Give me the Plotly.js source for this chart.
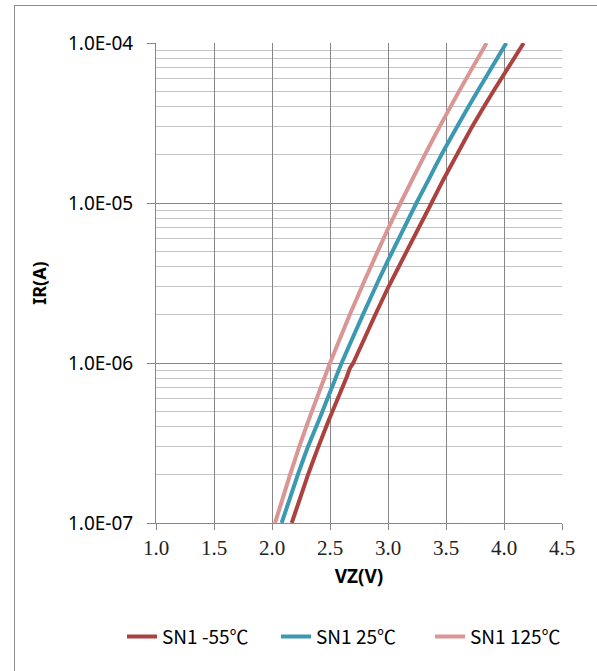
<!DOCTYPE html>
<html>
<head>
<meta charset="utf-8">
<script src="https://cdn.plot.ly/plotly-3.0.1.min.js"></script>
<style>
  html, body { margin: 0; padding: 0; background: #fff; overflow: hidden; }
  #wrap { position: relative; width: 597px; height: 671px; }
  #frame { position: absolute; left: 14px; top: 5px; width: 590px; height: 700px; border: 1px solid #8c8c8c; box-sizing: border-box; pointer-events: none; }
  #chart { position: absolute; left: 0; top: 0; width: 597px; height: 671px; }
</style>
</head>
<body>
<div id="wrap">
  <div id="chart"></div>
  <div id="frame"></div>
</div>
<script>
// Series names
const seriesNames = ["SN1 -55℃", "SN1 25℃", "SN1 125℃"];

// SN1 -55℃
const vzM55 = [2.17, 2.31, 2.40, 2.49, 2.645, 2.672, 2.70, 2.89, 3.0, 3.375, 3.475, 3.593, 3.725, 3.908, 4.17];
const irM55 = [1e-7, 2e-7, 3e-7, 4.4e-7, 8.2e-7, 9.3e-7, 1e-6, 2e-6, 2.95e-6, 1e-5, 1.39e-5, 2e-5, 3e-5, 5e-5, 1e-4];

// SN1 25℃
const vz25 = [2.083, 2.222, 2.31, 2.405, 2.60, 2.783, 2.92, 2.995, 3.245, 3.348, 3.46, 3.595, 3.772, 4.02];
const ir25 = [1e-7, 2e-7, 3e-7, 4.4e-7, 1e-6, 2e-6, 3.3e-6, 4.3e-6, 1e-5, 1.39e-5, 2e-5, 3e-5, 5e-5, 1e-4];

// SN1 125℃
const vz125 = [2.026, 2.155, 2.235, 2.316, 2.50, 2.67, 2.80, 3.0, 3.108, 3.317, 3.445, 3.613, 3.85];
const ir125 = [1e-7, 2e-7, 3e-7, 4.4e-7, 1e-6, 2e-6, 3.3e-6, 6.9e-6, 1e-5, 2e-5, 3e-5, 5e-5, 1e-4];

// Axis ticks
const xTickVals = [1.0, 1.5, 2.0, 2.5, 3.0, 3.5, 4.0, 4.5];
const xTickText = ["1.0", "1.5", "2.0", "2.5", "3.0", "3.5", "4.0", "4.5"];
const yTickVals = [1e-7, 1e-6, 1e-5, 1e-4];
const yTickText = ["1.0E-07", "1.0E-06", "1.0E-05", "1.0E-04"];
const yMinorVals = [];
[1e-7, 1e-6, 1e-5].forEach(d => { for (let k = 2; k <= 9; k++) yMinorVals.push(d * k); });

const colors = ["#AC423F", "#3C99B2", "#D99694"];
const xs = [vzM55, vz25, vz125];
const ys = [irM55, ir25, ir125];

const traces = xs.map((x, i) => ({
  x: x, y: ys[i], name: seriesNames[i], type: "scatter", mode: "lines",
  line: { color: colors[i], width: 4, shape: "spline", smoothing: 0.3 }
}));

const layout = {
  width: 597, height: 671,
  margin: { l: 156, r: 35, t: 43, b: 148 },
  paper_bgcolor: "#fff", plot_bgcolor: "#fff",
  showlegend: true,
  font: { family: "Noto Sans, Noto Sans CJK SC, sans-serif", color: "#000" },
  xaxis: {
    range: [1.0, 4.5], tickmode: "array", tickvals: xTickVals, ticktext: xTickText,
    showgrid: true, gridcolor: "#878787", gridwidth: 1,
    showline: true, linecolor: "#878787", linewidth: 1,
    ticks: "outside", ticklen: 6, tickcolor: "#878787",
    zeroline: false,
    tickfont: { family: "Liberation Serif, serif", size: 21, color: "#222" },
    title: { text: "<b>VZ(V)</b>", font: { family: "Noto Sans, sans-serif", size: 19, color: "#000" }, standoff: 10 }
  },
  yaxis: {
    type: "log", range: [-7, -4], tickmode: "array", tickvals: yTickVals, ticktext: yTickText,
    showgrid: true, gridcolor: "#878787", gridwidth: 1,
    showline: true, linecolor: "#878787", linewidth: 1,
    ticks: "outside", ticklen: 8, tickcolor: "#878787",
    ticklabelstandoff: 10,
    zeroline: false,
    minor: { tickmode: "array", tickvals: yMinorVals, showgrid: true, gridcolor: "#c4c4c4", gridwidth: 1, ticks: "" },
    tickfont: { family: "Noto Sans, sans-serif", size: 19, color: "#000" },
    title: { text: "<b>IR(A)</b>", font: { family: "Noto Sans, sans-serif", size: 18, color: "#000" }, standoff: 16 }
  },
  legend: {
    orientation: "h", x: -0.0837, xanchor: "left", y: -0.237, yanchor: "middle",
    font: { family: "Noto Sans CJK SC, Noto Sans, sans-serif", size: 19, color: "#000" },
    entrywidth: 109, entrywidthmode: "pixels",
    tracegroupgap: 0, bgcolor: "rgba(0,0,0,0)"
  }
};

Plotly.newPlot("chart", traces, layout, { displayModeBar: false, staticPlot: true });
</script>
</body>
</html>
